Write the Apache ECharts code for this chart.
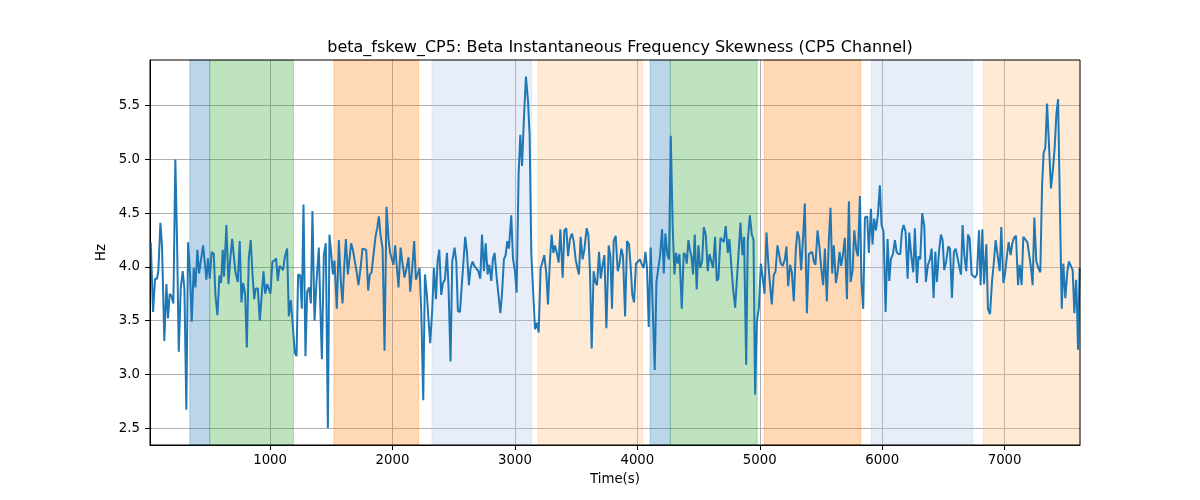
<!DOCTYPE html>
<html><head><meta charset="utf-8">
<script src="https://cdn.jsdelivr.net/npm/echarts@6/dist/echarts.min.js"></script>
<style>html,body{margin:0;padding:0;background:#fff}#c{width:1200px;height:500px}</style>
</head><body><div id="c"></div>
<script>
const titleText = 'beta_fskew_CP5: Beta Instantaneous Frequency Skewness (CP5 Channel)';
const xName = 'Time(s)';
const yName = 'Hz';
const xTicks = [1000, 2000, 3000, 4000, 5000, 6000, 7000];
const yTicks = [2.5, 3.0, 3.5, 4.0, 4.5, 5.0, 5.5];
const xRange = [19, 7616];
const yRange = [2.343, 5.925];

const bandStarts = [344, 507, 1521, 2322, 3188, 4104, 4270, 5036, 5911, 6826];
const bandEnds   = [507, 1191, 2213, 3137, 4044, 4270, 4979, 5826, 6742, 7616];
const bandColors = ['rgba(31,119,180,0.3)', 'rgba(44,160,44,0.3)', 'rgba(255,127,14,0.3)', 'rgba(174,199,232,0.3)', 'rgba(255,187,120,0.3)',
                    'rgba(31,119,180,0.3)', 'rgba(44,160,44,0.3)', 'rgba(255,127,14,0.3)', 'rgba(174,199,232,0.3)', 'rgba(255,187,120,0.3)'];

const times = [
25,44,60,77,87,104,117,136,153,166,180,194,210,226,240,254,270,286,300,316,330,346,360,376,390,406,420,436,453,466,480,493,507,523,540,553,570,586,600,613,624,643,660,673,690,703,717,736,752,766,780,796,810,826,842,856,870,883,900,916,930,946,960,976,992,1003,1019,1036,1049,1063,1077,1093,1106,1120,
1139,1153,1169,1183,1202,1216,1229,1246,1259,1273,1289,1303,1319,1333,1346,1363,1379,1398,1409,1423,1439,1455,1472,1485,1499,1513,1526,1545,1562,1578,1592,1605,1619,1635,1649,1662,1676,1690,1706,1722,1739,1755,1771,1785,1801,1815,1829,1845,1861,1875,1889,1902,1919,1935,1951,1968,1981,1995,2008,2022,2036,2049,2066,2082,2098,2115,2131,2145,2161,2177,2191,2207,
2221,2235,2251,2265,2281,2295,2308,2325,2338,2355,2368,2382,2398,2412,2428,2445,2458,2474,2488,2507,2521,2534,2551,2564,2578,2594,2608,2624,2638,2654,2668,2684,2701,2717,2731,2747,2761,2777,2791,2807,2821,2834,2851,2864,2881,2894,2910,2924,2938,2951,2970,2984,3000,3014,3030,3044,3058,3074,3090,3107,3120,3134,3150,3164,3180,3194,3210,3224,3240,3257,3270,3284,
3300,3314,3327,3344,3357,3371,3390,3404,3420,3434,3450,3466,3480,3496,3510,3523,3537,3553,3567,3586,3600,3613,3627,3643,3657,3671,3687,3701,3714,3731,3747,3766,3780,3793,3807,3823,3840,3853,3870,3883,3900,3916,3932,3946,3959,3973,3989,4006,4022,4038,4052,4066,4079,4093,4109,4126,4142,4156,4172,4186,4202,4216,4229,4246,4259,4273,4289,4303,4316,4330,4344,4363,4379,4393,4404,
4417,4428,4444,4455,4469,4485,4499,4513,4529,4543,4559,4575,4589,4603,4619,4635,4649,4662,4679,4692,4706,4722,4739,4752,4769,4782,4799,4812,4826,4842,4859,4872,4889,4902,4919,4935,4949,4962,4976,4992,5009,5025,5039,5055,5069,5082,5098,5115,5128,5145,5158,5172,5188,5205,5218,5232,5248,5262,5278,5295,5308,5322,5338,5355,5368,5385,5401,5415,5428,5442,5455,5472,5488,5502,5518,
5532,5548,5564,5578,5592,5605,5622,5638,5652,5665,5679,5695,5712,5728,5742,5758,5772,5788,5802,5818,5831,5845,5859,5878,5891,5908,5921,5935,5949,5965,5981,5995,6011,6028,6044,6058,6071,6088,6104,6118,6131,6148,6161,6175,6191,6208,6221,6237,6254,6267,6284,6297,6311,6327,6344,6357,6374,6390,6404,6420,6434,6447,6464,6480,6494,6507,6524,6540,6554,6570,6586,6600,6614,
6627,6644,6657,6671,6687,6701,6714,6731,6744,6758,6774,6791,6804,6818,6832,6851,6864,6881,6897,6913,6927,6943,6960,6973,6990,7003,7017,7033,7050,7063,7077,7093,7110,7123,7139,7153,7169,7186,7199,7216,7229,7243,7259,7276,7292,7306,7319,7333,7347,7363,7379,7396,7409,7423,7437,7453,7467,7480,7496,7513,7526,7540,7556,7570,7584,7592,7600,7613
];
const values = [
4.23,3.58,3.89,3.89,3.96,4.41,4.20,3.31,3.84,3.52,3.75,3.73,3.66,5.00,4.24,3.21,3.80,3.96,3.80,2.67,4.23,3.93,3.49,3.99,3.81,4.16,3.94,4.07,4.20,4.05,3.88,4.08,3.89,4.14,4.12,3.74,3.55,3.92,3.85,4.16,3.91,4.39,3.84,4.05,4.26,4.25,3.95,3.86,4.24,3.67,3.85,3.75,3.25,4.08,4.25,3.94,3.70,3.80,3.80,3.50,3.49,3.96,3.75,3.84,3.83,3.75,4.05,4.06,4.08,3.87,4.01,3.99,3.97,4.09,
4.17,3.54,3.69,3.49,3.20,3.17,3.93,3.92,3.61,4.58,3.17,3.77,3.81,3.66,4.52,3.50,3.86,4.18,3.68,3.14,4.11,4.22,2.50,4.30,4.13,3.93,4.06,3.61,4.25,3.86,3.66,3.99,4.26,3.93,3.94,4.22,4.16,4.17,3.96,3.83,3.99,4.17,4.17,4.16,3.78,3.93,3.95,3.96,4.28,4.36,4.47,4.30,4.17,3.22,4.56,4.25,4.13,4.14,4.02,4.20,3.99,3.81,4.18,4.03,3.90,3.99,4.09,3.77,3.99,4.24,3.88,3.87,
3.99,3.58,2.76,3.93,3.74,3.49,3.29,3.61,3.99,3.70,4.05,4.16,3.74,3.85,3.88,4.13,3.80,3.12,4.05,4.18,4.05,3.59,3.58,3.80,3.80,4.28,4.14,3.83,3.99,4.05,4.01,4.02,3.96,3.89,4.30,3.96,4.22,3.93,4.02,3.87,4.08,4.13,3.90,3.89,3.57,3.74,4.07,4.11,4.24,4.17,4.48,4.08,3.96,3.76,4.86,5.23,4.94,5.39,5.77,5.54,5.23,4.12,4.11,3.42,3.48,3.39,3.99,4.04,4.11,3.93,3.65,4.02,
4.30,4.13,4.20,4.12,4.04,4.35,3.90,4.34,4.36,4.10,4.26,4.31,4.24,4.07,3.99,3.93,4.28,4.07,4.16,4.36,4.30,3.96,3.24,3.96,3.86,3.83,4.14,3.89,4.00,4.11,3.43,4.20,4.10,3.61,4.24,4.29,3.96,4.02,4.17,4.10,3.54,4.24,4.21,3.99,3.74,3.67,4.03,4.05,4.07,4.02,3.99,4.14,3.99,3.44,4.18,3.61,3.04,3.86,3.87,4.11,4.35,3.94,4.31,4.11,4.07,5.22,4.36,3.93,4.13,4.03,4.12,3.61,4.13,4.11,4.03,
4.25,4.17,4.08,3.93,4.30,3.79,4.20,3.99,4.05,4.37,4.30,3.96,4.12,4.13,3.99,4.28,3.87,3.89,4.27,4.28,4.23,4.38,4.13,4.26,3.99,3.80,3.62,3.86,4.11,4.41,4.11,4.28,3.09,4.24,4.48,4.30,4.25,2.81,3.49,3.61,4.03,3.89,3.75,4.32,4.05,3.86,3.65,3.93,3.95,4.20,4.20,4.03,4.01,4.07,4.19,3.82,4.02,3.95,3.68,4.17,4.33,4.27,3.97,4.30,4.59,3.57,4.12,4.12,4.14,4.05,4.02,4.34,4.18,3.99,3.83,
4.17,3.68,4.24,4.55,3.94,4.20,3.85,3.97,4.14,4.01,4.11,4.27,3.70,4.61,3.86,3.96,4.34,4.16,4.10,4.66,3.86,3.61,4.46,4.47,4.13,4.54,4.21,4.45,4.34,4.48,4.76,4.39,4.33,3.58,4.26,3.87,4.07,4.12,4.25,4.14,4.12,4.12,4.33,4.39,4.33,3.89,4.32,4.11,3.95,4.36,3.85,4.10,4.07,4.50,4.38,3.86,4.02,4.07,4.17,3.71,4.14,3.86,4.14,4.30,4.25,3.97,4.06,4.19,4.17,3.71,4.14,4.17,4.16,
4.02,3.93,4.39,4.11,3.96,4.30,4.27,3.93,3.94,3.90,3.93,4.34,3.83,4.35,3.84,4.21,3.61,3.56,3.86,4.05,4.25,4.11,3.96,4.37,3.85,3.93,4.08,4.23,4.11,4.22,4.27,4.29,3.83,4.02,3.83,4.28,4.28,4.23,4.23,3.99,3.83,4.46,4.05,3.99,3.95,4.75,5.06,5.11,5.52,5.52,4.73,4.92,5.11,5.42,5.56,4.48,3.61,4.03,3.71,3.96,4.05,4.04,3.97,3.57,3.88,3.61,3.23,3.99
];

const FONT = 'DejaVu Sans';
const lineData = times.map((t, i) => [t, values[i]]);
const bandData = bandStarts.map((s, i) => [
  { xAxis: s, itemStyle: { color: bandColors[i], borderColor: bandColors[i], borderWidth: 1 } },
  { xAxis: bandEnds[i] }
]);

const chart = echarts.init(document.getElementById('c'), null, { renderer: 'canvas' });
chart.setOption({
  animation: false,
  backgroundColor: '#ffffff',
  title: {
    text: titleText, left: 615, textAlign: 'center', top: 35,
    textStyle: { fontFamily: FONT, fontSize: 16, fontWeight: 'normal', color: '#000' }
  },
  grid: { left: 150, right: 120, top: 60, bottom: 55, containLabel: false },
  xAxis: {
    type: 'value', min: xRange[0], max: xRange[1],
    name: xName, nameLocation: 'middle', nameGap: 28,
    nameTextStyle: { fontFamily: FONT, fontSize: 13.3, color: '#000' },
    axisLine: { show: true, onZero: false, lineStyle: { color: '#000', width: 1 } },
    axisTick: { show: true, inside: false, length: 5, lineStyle: { color: '#000' }, customValues: xTicks },
    axisLabel: { fontFamily: FONT, fontSize: 13.3, color: '#000', margin: 9, customValues: xTicks,
      formatter: v => String(Math.round(v)) },
    splitLine: { show: true, lineStyle: { color: '#b0b0b0', width: 1 } }
  },
  yAxis: {
    type: 'value', min: yRange[0], max: yRange[1],
    name: yName, nameLocation: 'middle', nameGap: 35, nameRotate: 90,
    nameTextStyle: { fontFamily: FONT, fontSize: 13.3, color: '#000' },
    axisLine: { show: true, onZero: false, lineStyle: { color: '#000', width: 1 } },
    axisTick: { show: true, inside: false, length: 5, lineStyle: { color: '#000' }, customValues: yTicks },
    axisLabel: { fontFamily: FONT, fontSize: 13.3, color: '#000', margin: 10, customValues: yTicks,
      formatter: v => Number(v).toFixed(1) },
    splitLine: { show: true, lineStyle: { color: '#b0b0b0', width: 1 } }
  },
  series: [
    {
      type: 'line', data: [], z: 1, silent: true,
      markArea: { silent: true, data: bandData }
    },
    {
      type: 'line', data: lineData, z: 3, showSymbol: false, symbol: 'none',
      lineStyle: { color: '#1f77b4', width: 2 }, itemStyle: { color: '#1f77b4' }
    }
  ],
  graphic: [{
    type: 'rect', shape: { x: 150, y: 60, width: 930, height: 385 },
    style: { fill: 'none', stroke: '#000', lineWidth: 1 }, z: 100, silent: true
  }]
});
</script></body></html>
